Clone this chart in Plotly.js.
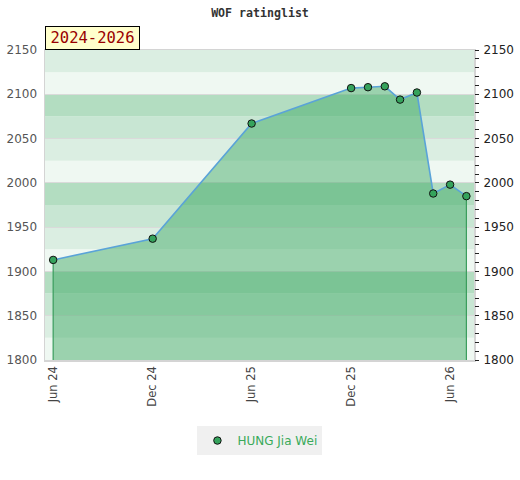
<!DOCTYPE html>
<html>
<head>
<meta charset="utf-8">
<script src="https://cdn.plot.ly/plotly-3.0.1.min.js"></script>
<style>html,body{margin:0;padding:0;background:#fff;}#chart{width:520px;height:480px;}</style>
</head>
<body>
<div id="chart"></div>
<script>
var dates = ["2024-06-01","2024-12-01","2025-06-01","2025-12-01","2026-01-01","2026-02-01","2026-03-01","2026-04-01","2026-05-01","2026-06-01","2026-07-01"];
var ratings = [1913, 1937, 2067, 2107, 2108, 2109, 2094, 2102, 1988, 1998, 1985];
var playerName = "HUNG Jia Wei";
var periodLabel = "2024-2026";
var chartTitle = "WOF ratinglist";
var yMin = 1800, yMax = 2150;

var bandColors = {0: "#eff8f2", 25: "#dbeee2", 50: "#c8e6d3", 75: "#b3ddc1"};
var shapes = [];
for (var b = yMin; b < yMax; b += 25) {
  shapes.push({type: "rect", xref: "paper", x0: 0, x1: 1, yref: "y", y0: b, y1: b + 25,
    fillcolor: bandColors[((b % 100) + 100) % 100], line: {width: 0}, layer: "below"});
}

var n = dates.length;
var traces = [
  {x: dates, y: ratings, type: "scatter", mode: "none", fill: "tozeroy",
   fillcolor: "rgba(62,170,100,0.48)", showlegend: false, hoverinfo: "skip"},
  {x: [dates[0], dates[0]], y: [ratings[0], yMin], type: "scatter", mode: "lines",
   line: {color: "#3a9d5d", width: 1.2}, showlegend: false, hoverinfo: "skip"},
  {x: [dates[n-1], dates[n-1]], y: [ratings[n-1], yMin], type: "scatter", mode: "lines",
   line: {color: "#3a9d5d", width: 1.2}, showlegend: false, hoverinfo: "skip"},
  {x: dates, y: ratings, type: "scatter", mode: "lines",
   line: {color: "#5aa3d8", width: 1.6}, showlegend: false},
  {x: dates, y: ratings, type: "scatter", mode: "markers", name: playerName,
   marker: {color: "#35a35c", size: 7.5, line: {color: "#111", width: 1}}}
];

var layout = {
  width: 520, height: 480,
  margin: {l: 45, r: 46, t: 50, b: 120},
  paper_bgcolor: "#fff", plot_bgcolor: "#fff",
  title: {text: chartTitle, x: 0.5, xanchor: "center", y: 0.973, yanchor: "middle",
    font: {family: "DejaVu Sans Mono", size: 11.6, color: "#333", weight: "bold"}},
  xaxis: {type: "date", range: ["2024-05-17", "2026-07-15"],
    tick0: "2024-06-01", dtick: "M6", tickformat: "%b %y", tickangle: -90,
    ticks: "", showgrid: false, zeroline: false,
    showline: true, linecolor: "#d4d4d4", linewidth: 1.5, mirror: true,
    tickfont: {family: "DejaVu Sans", size: 11.5, color: "#444"}},
  yaxis: {range: [yMin, yMax], dtick: 50, tick0: 1800, ticks: "",
    showgrid: true, gridcolor: "#dadada", gridwidth: 1, zeroline: false,
    showline: true, linecolor: "#d4d4d4", linewidth: 1.5, mirror: true,
    tickfont: {family: "DejaVu Sans", size: 12, color: "#555"}, ticklabelstandoff: 4},
  yaxis2: {range: [yMin, yMax], overlaying: "y", side: "right", dtick: 50, tick0: 1800,
    ticks: "outside", ticklen: 4, tickcolor: "#222", tickwidth: 1,
    minor: {dtick: 10, ticks: "outside", ticklen: 4, tickcolor: "#222", tickwidth: 1},
    showgrid: false, zeroline: false, showline: false, ticklabelstandoff: 2,
    tickfont: {family: "DejaVu Sans", size: 12, color: "#222"}},
  shapes: shapes,
  annotations: [{text: periodLabel, xref: "paper", yref: "paper", x: 0, y: 1,
    xanchor: "left", yanchor: "bottom", showarrow: false,
    width: 90, height: 19, align: "center", valign: "middle",
    bgcolor: "#ffffcc", bordercolor: "#000", borderwidth: 1, borderpad: 1.5,
    font: {family: "DejaVu Sans Mono", size: 15.5, color: "#990000"}}],
  legend: {orientation: "h", x: 0.501, xanchor: "center", y: -0.213, yanchor: "top",
    bgcolor: "#f0f0f0", itemwidth: 30, font: {family: "DejaVu Sans", size: 12, color: "#3aaa5a"}},
  hovermode: false
};

// invisible helper trace so the right-hand axis is drawn
traces.push({x: [dates[0]], y: [ratings[0]], yaxis: "y2", type: "scatter", mode: "markers",
  marker: {opacity: 0}, showlegend: false, hoverinfo: "skip"});

Plotly.newPlot("chart", traces, layout, {displayModeBar: false, staticPlot: true});
</script>
</body>
</html>
